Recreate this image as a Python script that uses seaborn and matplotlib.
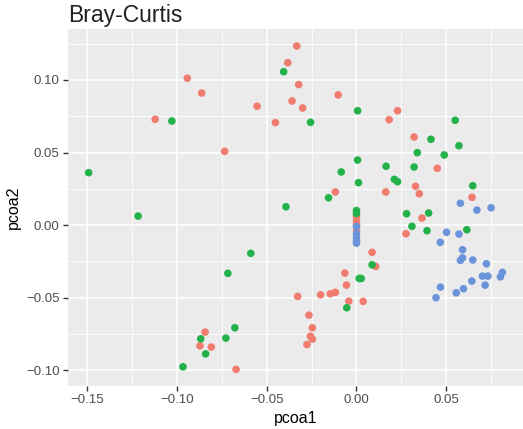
import matplotlib
matplotlib.use("Agg")
import matplotlib.pyplot as plt
import numpy as np
import pandas as pd
import seaborn as sns
from matplotlib.ticker import MultipleLocator

# PCoA coordinates per group
red_x = [-0.0943, -0.0863, -0.1122, -0.0333, -0.0383, -0.0322, -0.0359, -0.0554,
         -0.0300, -0.0102, -0.0452, -0.0735, -0.0118, 0.0229, 0.0182, 0.0321,
         0.0450, 0.0329, 0.0163, 0.0350, 0.0644, 0.0365, 0.0276, 0.0087,
         0.0107, -0.0065, -0.0056, -0.0043, 0.0037, -0.0328, -0.0200, -0.0146,
         -0.0118, -0.0265, -0.0246, -0.0257, -0.0246, -0.0276, -0.0844, -0.0872,
         -0.0809, -0.0671, 0.0, 0.0, 0.0, 0.0]
red_y = [0.1012, 0.0910, 0.0729, 0.1234, 0.1119, 0.0968, 0.0855, 0.0819,
         0.0807, 0.0897, 0.0706, 0.0508, 0.0228, 0.0788, 0.0726, 0.0607,
         0.0391, 0.0267, 0.0228, 0.0216, 0.0191, 0.0048, -0.0060, -0.0188,
         -0.0285, -0.0331, -0.0414, -0.0524, -0.0526, -0.0492, -0.0481, -0.0474,
         -0.0464, -0.0621, -0.0708, -0.0766, -0.0786, -0.0823, -0.0738, -0.0832,
         -0.0841, -0.0995, 0.006, 0.003, 0.000, -0.004]

green_x = [-0.1493, -0.1029, -0.0406, 0.0006, -0.0256, 0.0006, -0.0085, 0.0011,
           -0.0156, 0.0550, 0.0415, 0.0571, 0.0339, 0.0489, 0.0165, 0.0321,
           0.0211, 0.0229, 0.0648, 0.0279, 0.0402, 0.0309, 0.0393, 0.0615,
           0.0087, 0.0015, 0.0026, -0.0054, -0.0393, -0.0589, -0.0717, -0.1217,
           -0.0868, -0.0841, -0.0678, -0.0728, -0.0967, 0.0, 0.0]
green_y = [0.0361, 0.0717, 0.1057, 0.0788, 0.0708, 0.0448, 0.0366, 0.0292,
           0.0188, 0.0722, 0.0591, 0.0547, 0.0499, 0.0483, 0.0405, 0.0400,
           0.0315, 0.0299, 0.0271, 0.0078, 0.0083, -0.0009, -0.0039, -0.0032,
           -0.0274, -0.0368, -0.0368, -0.0570, 0.0126, -0.0195, -0.0333, 0.0062,
           -0.0784, -0.0888, -0.0708, -0.0779, -0.0977, 0.010, 0.008]

blue_x = [0.0579, 0.0671, 0.0750, 0.0502, 0.0571, 0.0467, 0.0591, 0.0591,
          0.0579, 0.0648, 0.0724, 0.0702, 0.0732, 0.0813, 0.0802, 0.0643,
          0.0717, 0.0468, 0.0596, 0.0556, 0.0443, 0.0, 0.0, 0.0, 0.0, 0.0]
blue_y = [0.0150, 0.0103, 0.0119, -0.0050, -0.0062, -0.0119, -0.0170, -0.0226,
          -0.0243, -0.0241, -0.0267, -0.0352, -0.0352, -0.0326, -0.0357, -0.0386,
          -0.0414, -0.0428, -0.0439, -0.0467, -0.0501, -0.001, -0.006, -0.009, -0.011, -0.0125]

x_ticks = [-0.15, -0.10, -0.05, 0.00, 0.05]
y_ticks = [-0.10, -0.05, 0.00, 0.05, 0.10]

df = pd.concat([
    pd.DataFrame({"pcoa1": red_x, "pcoa2": red_y, "group": "g1"}),
    pd.DataFrame({"pcoa1": green_x, "pcoa2": green_y, "group": "g2"}),
    pd.DataFrame({"pcoa1": blue_x, "pcoa2": blue_y, "group": "g3"}),
], ignore_index=True)

palette = {"g1": "#F07B6F", "g2": "#23B24A", "g3": "#6A93DA"}

sns.set_theme(style="darkgrid")
plt.rcParams["font.family"] = ["Liberation Sans", "DejaVu Sans"]

fig = plt.figure(figsize=(5.23, 4.29), dpi=100)
ax = fig.add_axes([0.130, 0.100, 0.870, 0.832])
ax.set_facecolor("#EBEBEB")

sns.scatterplot(data=df, x="pcoa1", y="pcoa2", hue="group", palette=palette,
                s=30, linewidth=0, alpha=1, legend=False, ax=ax, zorder=3)

ax.set_xlim(-0.1608, 0.0928)
ax.set_ylim(-0.1110, 0.1350)
ax.set_xticks(x_ticks)
ax.set_yticks(y_ticks)
ax.set_xticklabels([f"{v:.2f}".replace("-", "\u2212") for v in x_ticks])
ax.set_yticklabels([f"{v:.2f}".replace("-", "\u2212") for v in y_ticks])
ax.xaxis.set_minor_locator(MultipleLocator(0.05))
ax.xaxis.set_minor_locator(matplotlib.ticker.FixedLocator([-0.175, -0.125, -0.075, -0.025, 0.025, 0.075]))
ax.yaxis.set_minor_locator(matplotlib.ticker.FixedLocator([-0.075, -0.025, 0.025, 0.075, 0.125]))

ax.grid(which="major", color="white", linewidth=1.1)
ax.grid(which="minor", color="white", linewidth=0.55)
ax.set_axisbelow(True)
for s in ax.spines.values():
    s.set_visible(False)

ax.tick_params(axis="both", which="major", length=3.5, width=1.0, color="#333333",
               labelsize=9.5, labelcolor="#4D4D4D", pad=2.5, bottom=True, left=True)
ax.tick_params(axis="both", which="minor", length=0)

ax.set_xlabel("pcoa1", fontsize=11.5, color="black", labelpad=3)
ax.set_ylabel("pcoa2", fontsize=11.5, color="black", labelpad=4)
ax.set_title("Bray-Curtis", fontsize=16.5, loc="left", color="#222222", pad=5)

fig.savefig("out.png", dpi=100)
